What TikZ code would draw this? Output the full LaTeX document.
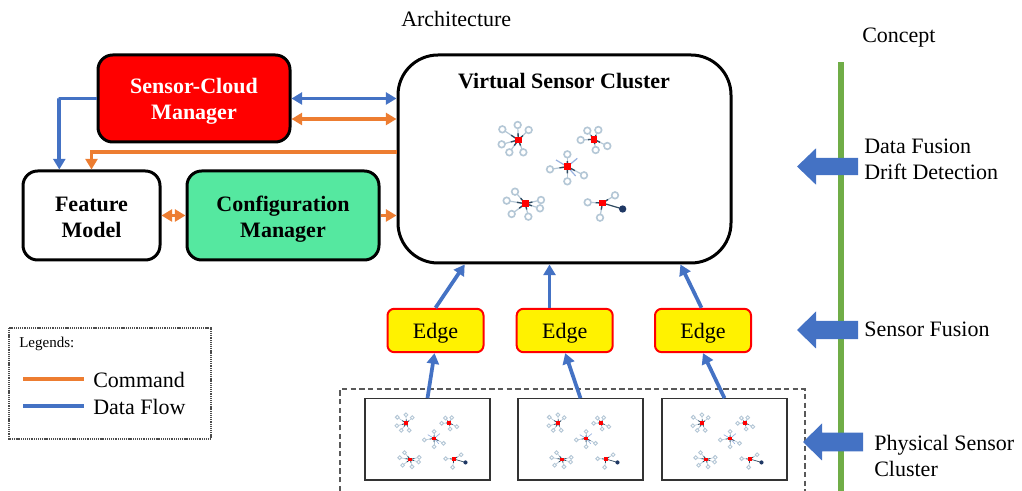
\documentclass[tikz,border=0pt]{standalone}
\usepackage{fontspec}
\setmainfont{Liberation Serif}
\usetikzlibrary{arrows.meta,calc}
\definecolor{dblue}{HTML}{4472C4}
\definecolor{dorange}{HTML}{ED7D31}
\definecolor{dgreen}{HTML}{70AD47}
\definecolor{cfg}{HTML}{55E8A0}
\definecolor{satc}{HTML}{B4C7D6}
\definecolor{spoke}{HTML}{2F4A60}
\definecolor{dotc}{HTML}{1F3864}
\newcommand{\fnt}[1]{\fontsize{\fpeval{#1*0.75}}{\fpeval{#1*0.885}}\selectfont}
\newcommand{\starart}[4]{% cx cy satellites scale
 \foreach \a/\b in {#3}{
  \draw[satc,line width=#4*0.9pt](#1,#2)--(\a,\b);
  \draw[spoke,line width=#4*1.0pt](#1,#2)--($(#1,#2)!0.45!(\a,\b)$);
  \path[fill=white,draw=satc,line width=#4*1.2pt](\a,\b) circle[radius=10];}}
\newcommand{\clusterart}[3]{% ox oy scale
\begin{scope}[shift={(#1,#2)},x=#3*0.25pt,y=-#3*0.25pt]
 \starart{115}{90}{67/58,113/45,146/60,65/103,88/127,130/127}{#3}
 \starart{342}{88}{322/62,355/60,302/90,382/108,347/120}{#3}
 \foreach \a/\b in {228/150,292/145,287/198}{\draw[dblue!55,line width=#3*0.9pt](262,170)--(\a,\b);}
 \starart{262}{170}{262/133,210/178,312/196,262/214}{#3}
 \starart{136}{281}{105/245,80/272,183/270,180/295,95/312,145/320}{#3}
 \starart{367}{279}{323/277,405/256,360/323}{#3}
 \draw[spoke,line width=#3*0.9pt](367,279)--(428,297);
 \fill[dotc](428,297) circle[radius=11];
 \foreach \a/\b in {115/90,342/88,262/170,136/281,367/279}{\fill[red](\a-10,\b-10) rectangle (\a+10,\b+10);}
\end{scope}}
\newcommand{\blockarrow}[6]{% tipx headx tailx y bodyhalf headhalf
  \fill[dblue] (#1,#4) -- (#2,#4-#6) -- (#2,#4-#5) -- (#3,#4-#5) -- (#3,#4+#5) -- (#2,#4+#5) -- (#2,#4+#6) -- cycle;}
\tikzset{
  base/.style={draw=black,line width=2.25pt,rounded corners=11pt,inner sep=0pt},
  boxlab/.style={align=center,inner sep=0pt,font=\fnt{22}\bfseries},
  edgebox/.style={draw=red,fill=yellow,line width=1.5pt,rounded corners=5pt,minimum width=72pt,minimum height=32.5pt,inner sep=0pt,font=\fnt{22},text height=15pt},
  flow/.style={line width=2.8pt,draw=dblue},
  cmd/.style={line width=2.8pt,draw=dorange},
  tip/.style={-{Triangle[length=8pt,width=9pt]}},
  both/.style={{Triangle[length=8pt,width=9pt]}-{Triangle[length=8pt,width=9pt]}},
  smallbox/.style={draw=black!80,line width=1pt,minimum width=93.75pt,minimum height=61pt,inner sep=0pt},
  lbl/.style={font=\fnt{22},anchor=west,inner sep=0pt},
}
\begin{document}
\begin{tikzpicture}[x=0.75pt,y=-0.75pt]
\useasboundingbox (0,0) rectangle (1022,491);
% concept line
\fill[dgreen] (837.5,62) rectangle (844.3,491);
% boxes
\node[base,fill=red,minimum width=144pt,minimum height=65.25pt] (sc) at (194,98.5) {};
\node[boxlab,text=white] (sct) at (194,101.5) {Sensor-Cloud\\Manager};
\node[base,fill=white,minimum width=102.75pt,minimum height=66.75pt] (fm) at (91.5,215.5) {};
\node[boxlab] (fmt) at (91.5,217) {Feature\\Model};
\node[base,fill=cfg,minimum width=144pt,minimum height=66.75pt] (cm) at (283,215.5) {};
\node[boxlab] (cmt) at (283,219) {Configuration\\Manager};
\node[base,fill=white,rounded corners=30pt,minimum width=249.75pt,minimum height=156pt] (vsc) at (564.5,159) {};
\node[boxlab] (vsct) at (564,81) {Virtual Sensor Cluster};
\clusterart{480}{110}{1}
\node[edgebox] (e1) at (435.5,330.5) {Edge};
\node[edgebox] (e2) at (564.7,330.5) {Edge};
\node[edgebox] (e3) at (703,330.5) {Edge};
\draw[black!65,dash pattern=on 4pt off 2.5pt,line width=0.9pt] (340,491) -- (340,389) -- (805,389) -- (805,491);
\node[smallbox] (b1) at (427.5,439.5) {};
\node[smallbox] (b2) at (580.5,439.5) {};
\node[smallbox] (b3) at (724.5,439.5) {};
\clusterart{384.6}{406.3}{0.567}
\clusterart{536.6}{406.3}{0.567}
\clusterart{680.6}{406.3}{0.567}
% connectors
\draw[flow,tip] (sc.west) -- ++(-38,0) -| ($(fm.north west)!0.27!(fm.north east)$);
\draw[flow,both] (sc.east) -- (sc.east -| vsc.west);
\coordinate (scb) at ($(sc.east)+(0,20.5)$);
\draw[cmd,both] (scb) -- (scb -| vsc.west);
\coordinate (vo) at ($(vsc.west)+(0,-7)$);
\draw[cmd,tip] (vo) -- (vo -| fm.north) -- (fm.north);
\draw[cmd,both] (fm.east) -- (cm.west);
\draw[cmd,tip] (cm.east) -- (cm.east -| vsc.west);
\coordinate (e2o) at ($(e2.north west)!0.345!(e2.north east)$);
\draw[flow,tip] (e1.north) -- ($(vsc.south west)!0.203!(vsc.south east)$);
\draw[flow,tip] (e2o) -- (e2o |- vsc.south);
\draw[flow,tip] ($(e3.north west)!0.485!(e3.north east)$) -- ($(vsc.south west)!0.845!(vsc.south east)$);
\draw[flow,tip] (b1.north) -- ($(e1.south west)!0.49!(e1.south east)$);
\draw[flow,tip] (b2.north) -- ($(e2.south west)!0.505!(e2.south east)$);
\draw[flow,tip] (b3.north) -- (e3.south);
% block arrows
\blockarrow{797}{816}{858}{166.5}{8.7}{18.2}
\blockarrow{797}{816}{858}{330}{9.2}{18.5}
\blockarrow{803}{822}{863}{442}{9.3}{18.5}
% titles
\node[lbl] (arch) at (401,19) {Architecture};
\node[lbl] (conc) at (862,38) {Concept};
\node[lbl,align=left] (df) at (864,159.5) {Data Fusion\\Drift Detection};
\node[lbl] (sf) at (864,329) {Sensor Fusion};
\node[lbl,align=left] (ps) at (874,455.5) {Physical Sensor\\Cluster};
% legend
\draw[black!70,dash pattern=on 0.8pt off 0.6pt,line width=0.8pt] (9,328) rectangle (211,439);
\node[lbl,font=\fnt{15}] (leg) at (19,344) {Legends:};
\coordinate (l1a) at (23,379);\coordinate (l1b) at (84,379);
\coordinate (l2a) at (23,406);\coordinate (l2b) at (84,406);
\draw[cmd] (l1a) -- (l1b);
\draw[flow] (l2a) -- (l2b);
\node[lbl] (lc) at (93,380) {Command};
\node[lbl] (ld) at (93,407) {Data Flow};
\end{tikzpicture}
\end{document}
